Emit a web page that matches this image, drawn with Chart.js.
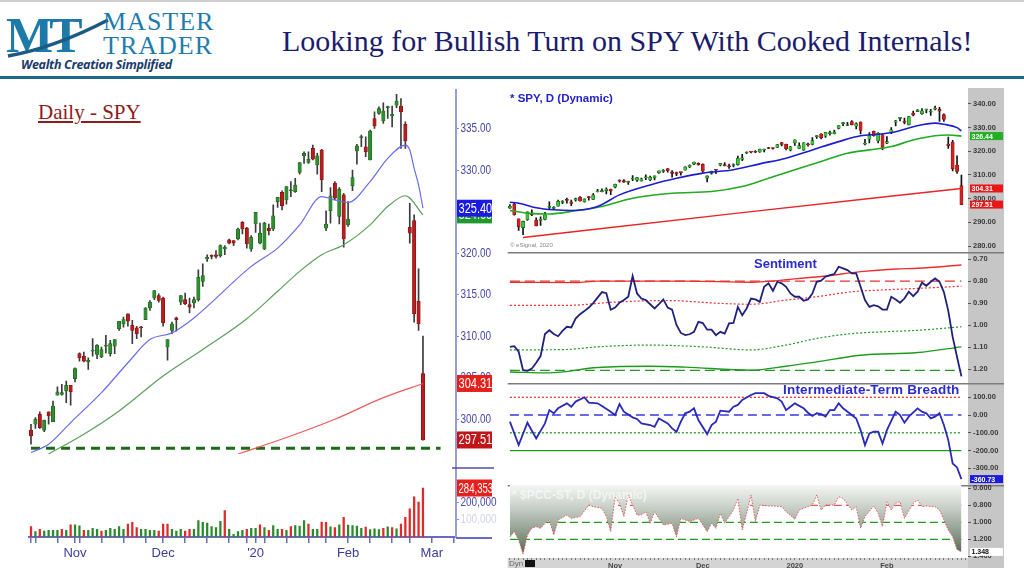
<!DOCTYPE html>
<html>
<head>
<meta charset="utf-8">
<script src="https://cdn.jsdelivr.net/npm/chart.js@4.4.1/dist/chart.umd.min.js"></script>
<style>
  body { margin: 0; width: 1024px; height: 573px; overflow: hidden; background: #fff; position: relative; font-family: 'Liberation Sans', Arial, sans-serif; }
  canvas { position: absolute; }
  .abs { position: absolute; white-space: nowrap; }
</style>
</head>
<body>
<div class="abs" style="left:0;top:0;width:1024px;height:2px;background:#cfcfcf"></div>
<!-- logo -->
<div class="abs" style="left:6px;top:6px;font:bold 50px 'Liberation Serif',serif;color:#1d7aa8;letter-spacing:-4px">MT</div>
<svg class="abs" style="left:4px;top:14px" width="110" height="50"><path d="M4 42 Q 50 34 104 6" stroke="#1c5a86" stroke-width="3.5" fill="none"/></svg>
<div class="abs" style="left:103px;top:10px;font:26px 'Liberation Serif',serif;color:#1f7cad;line-height:24px;letter-spacing:1px">MASTER<br>TRADER</div>
<div class="abs" style="left:21px;top:56px;font:italic bold 12.5px 'Open Sans',sans-serif;color:#1a3c6c;letter-spacing:-0.3px">Wealth Creation Simplified</div>
<div class="abs" id="title" style="left:282px;top:24px;font:30px 'Liberation Serif',serif;color:#1c1c6e">Looking for Bullish Turn on SPY With Cooked Internals!</div>
<div class="abs" style="left:0;top:76px;width:1024px;height:2.5px;background:#1f6a8c"></div>

<div class="abs" style="left:38px;top:100px;font:21px 'Liberation Serif',serif;color:#8e1c1c;text-decoration:underline">Daily - SPY</div>

<canvas id="left" width="500" height="486" style="left:0;top:86px"></canvas>
<canvas id="p1" width="512" height="164" style="left:500px;top:88px"></canvas>
<canvas id="p2" width="512" height="131" style="left:500px;top:252px"></canvas>
<canvas id="p3" width="512" height="102" style="left:500px;top:383px"></canvas>
<canvas id="p4" width="512" height="85" style="left:500px;top:485px"></canvas>

<div class="abs" style="left:510px;top:92px;font:bold 11.5px 'Liberation Sans',Arial,sans-serif;color:#2323c8">* SPY, D (Dynamic)</div>
<div class="abs" style="left:510px;top:242px;font:6px 'Liberation Sans',Arial,sans-serif;color:#888">© eSignal, 2020</div>
<div class="abs" style="left:754px;top:256px;font:bold 13px 'Liberation Sans',Arial,sans-serif;color:#2a2ad0">Sentiment</div>
<div class="abs" style="left:783px;top:382px;font:bold 13.5px 'Liberation Sans',Arial,sans-serif;color:#2a2ad0;letter-spacing:0.2px">Intermediate-Term Breadth</div>
<div class="abs" style="left:512px;top:488px;font:bold 12px 'Liberation Sans',Arial,sans-serif;color:rgba(255,255,255,0.6)">* $PCC-ST, D (Dynamic)</div>
<div class="abs" style="left:509px;top:559px;font:8px 'Liberation Sans',Arial,sans-serif;color:#666">Dyn <span style="display:inline-block;width:10px;height:7px;background:#111;vertical-align:-1px"></span></div>

<script>
// trading days shown on the charts
const tradingDays = [
  ['2019-09', [30]],
  ['2019-10', [1,2,3,4,7,8,9,10,11,14,15,16,17,18,21,22,23,24,25,28,29,30,31]],
  ['2019-11', [1,4,5,6,7,8,11,12,13,14,15,18,19,20,21,22,25,26,27,29]],
  ['2019-12', [2,3,4,5,6,9,10,11,12,13,16,17,18,19,20,23,24,26,27,30,31]],
  ['2020-01', [2,3,6,7,8,9,10,13,14,15,16,17,21,22,23,24,27,28,29,30,31]],
  ['2020-02', [3,4,5,6,7,10,11,12,13,14,18,19,20,21,24,25,26,27,28]],
  ['2020-03', [2,3,4,5,6,9]]
];
const dates = tradingDays.flatMap(([m, ds]) => ds.map(d => m + '-' + String(d).padStart(2, '0')));

// SPY daily OHLC, Sep 30 2019 .. Feb 27 2020
const opens = [296.0,297.7,291.5,287.8,291.1,293.5,291.0,290.8,291.2,296.3,295.9,296.8,298.4,299.7,298.7,299.4,300.6,298.7,300.9,299.7,
  302.9,303.0,303.4,304.1,304.9,307.9,307.6,306.9,308.2,307.8,307.5,308.8,307.9,308.8,310.9,311.5,312.7,311.3,311.0,311.1,
  312.0,313.4,314.6,314.9,314.6,308.7,310.7,312.2,314.1,314.4,313.8,314.0,314.4,316.6,319.3,319.7,319.8,319.7,320.5,321.6,
  321.5,321.7,323.7,323.0,320.5,323.5,321.2,320.5,323.0,322.9,326.2,327.3,326.4,327.5,327.4,329.7,331.7,330.9,332.6,330.6,
  332.4,323.0,325.1,328.4,324.4,327.0,323.4,328.1,332.3,333.9,332.8,331.2,336.2,336.8,335.9,337.5,336.5,337.8,337.7,335.5,
  323.1,323.9,314.2,305.5];
const highs = [297.5,298.5,291.5,290.5,294.4,295.3,291.9,292.3,294.2,298.7,296.7,299.4,299.2,300.2,299.4,300.2,300.9,299.9,300.9,302.2,
  303.9,304.2,304.6,304.1,306.2,308.0,308.1,307.4,309.7,309.0,308.7,310.1,309.5,309.6,311.8,312.3,312.7,311.9,311.2,311.2,
  313.4,314.3,315.5,315.1,314.7,309.6,311.7,312.3,314.9,315.2,314.6,314.7,318.0,318.7,319.8,319.8,320.3,321.0,320.9,321.7,
  321.5,323.0,323.8,323.1,322.1,324.9,323.6,323.7,323.5,325.8,326.7,327.5,328.0,328.6,329.0,330.9,332.2,332.2,333.0,332.0,
  332.5,325.1,327.9,328.6,327.9,327.2,326.2,330.0,333.1,334.2,334.0,334.8,337.0,337.6,338.1,337.7,337.7,339.1,338.6,335.8,
  326.0,324.6,318.1,310.0];
const lows = [295.9,293.0,286.6,284.8,290.8,292.8,288.5,288.7,291.0,295.4,295.6,296.8,297.9,298.1,297.0,298.9,298.9,298.5,299.4,299.7,
  302.9,302.9,302.0,301.7,304.5,307.0,306.9,306.0,307.6,307.3,307.4,308.0,307.6,307.9,310.7,311.1,311.2,309.1,309.7,309.9,
  312.0,313.1,314.4,314.1,311.2,307.1,310.3,310.6,313.8,313.8,312.8,313.4,314.2,316.0,319.0,319.3,319.4,319.5,319.8,321.1,
  320.9,321.6,322.3,320.6,320.2,322.5,321.1,320.4,322.2,322.7,325.5,325.2,325.9,326.8,327.3,329.5,330.8,330.8,331.2,329.5,
  327.4,322.7,323.6,326.4,323.5,320.7,323.2,327.5,330.7,332.8,331.6,331.2,335.0,336.7,335.6,336.2,335.2,337.5,332.6,332.6,
  321.2,311.7,310.7,297.5];
const closes = [296.8,293.2,288.1,290.4,294.4,293.1,288.5,291.3,293.2,296.3,296.0,298.9,298.4,299.3,298.0,300.0,299.0,299.9,300.4,301.6,
  303.3,303.2,304.1,303.3,306.1,307.4,307.0,307.1,308.2,308.9,308.4,308.9,309.1,309.6,311.8,312.0,311.8,310.7,310.3,311.0,
  313.4,314.1,315.5,314.3,311.6,309.6,311.5,312.0,314.9,313.9,313.5,314.4,317.1,317.3,319.5,319.6,319.6,320.9,320.7,321.2,
  321.2,322.9,322.9,321.1,321.9,324.9,322.4,323.6,322.7,324.5,326.7,325.7,328.0,327.5,328.2,330.9,332.0,331.3,331.3,331.7,
  328.8,323.5,326.9,326.6,327.7,321.7,324.1,329.1,332.9,334.0,332.2,334.7,335.3,337.4,337.1,337.6,336.7,338.3,337.0,333.5,
  322.4,312.7,311.5,297.51];

// volume (thousands of shares), Oct 18 2019 .. Feb 27 2020
const volumeStart = '2019-10-18';
const volumes = [61000,32000,45000,35000,39000,39000,39000,45000,39000,71000,71000,65000,39000,39000,51000,45000,35000,39000,51000,45000,
  61000,45000,75000,85000,55000,45000,45000,39000,39000,35000,75000,75000,45000,35000,45000,35000,45000,45000,95000,85000,
  81000,61000,55000,91000,154000,45000,16000,32000,39000,45000,51000,51000,71000,55000,39000,67000,45000,45000,39000,61000,
  67000,63000,95000,75000,45000,45000,87000,85000,59000,55000,71000,114000,69000,67000,63000,51000,57000,43000,47000,43000,
  51000,59000,55000,47000,75000,114000,164000,233000,203000,284353];

// left axis tick values
const priceTicks = [300, 305, 310, 315, 320, 325, 330, 335];
const volumeTicks = [100000, 200000];

// left chart moving averages (knot day index, value)
const maBlueIdx = [14,18,23,30,36,41,46,51,64,70,75,80,83,86,91,95,99,100,101,102,103];
const maBlueVal = [296.0,297.0,299.6,303.2,306.8,309.6,310.4,312.2,318.4,320.6,323.4,326.8,326.4,326.1,328.6,331.4,333.0,332.4,330.2,328.2,325.40];
const maGreenIdx = [18,26,34,44,53,63,70,75,80,85,91,95,99,103];
const maGreenVal = [295.82,298.2,301.0,305.2,308.4,312.1,315.4,317.8,319.8,321.0,323.4,325.6,326.9,324.60];
const maRedIdx = [61,72,83,94,103];
const maRedVal = [295.82,297.8,300.0,302.6,304.31];
const supportLevel = 296.5;
const supportFrom = '2019-10-18', supportTo = '2020-03-04';

// right price panel moving averages
const rBlueIdx = [0,2,6,10,14,20,25,32,38,44,51,57,63,69,75,80,84,88,92,97,99,102,103];
const rBlueVal = [298.5,298.1,296.2,295.3,295.0,296.7,301.6,305.8,308.6,310.8,312.2,314.7,317.1,320.6,324.1,326.6,327.2,328.3,330.4,331.9,331.4,330.0,328.6];
const rGreenIdx = [0,4,9,15,21,28,37,46,53,59,65,71,77,82,87,92,97,100,103];
const rGreenVal = [295.0,293.9,293.5,294.9,296.7,300.2,302.3,303.0,305.1,308.6,312.2,315.7,319.2,320.6,322.0,324.8,326.6,326.9,326.44];
const rRedIdx = [3,51,103];
const rRedVal = [283.6,293.7,304.31];

// sentiment (daily, Sep 30 .. Feb 27)
const sentiment = [1.098,1.095,1.12,1.204,1.207,1.197,1.17,1.14,1.04,1.023,1.04,1.05,1.026,1.007,1.01,0.97,0.95,0.936,0.92,0.90,
  0.875,0.85,0.855,0.93,0.92,0.898,0.886,0.871,0.777,0.856,0.879,0.886,0.905,0.924,0.904,0.883,0.92,0.929,0.999,1.035,
  1.045,1.041,1.03,0.985,0.99,1.02,1.02,1.045,1.03,1.038,0.992,0.99,0.917,0.955,0.924,0.879,0.883,0.894,0.826,0.81,
  0.844,0.803,0.81,0.826,0.856,0.871,0.871,0.889,0.883,0.856,0.803,0.798,0.78,0.773,0.768,0.735,0.742,0.75,0.765,0.765,
  0.826,0.886,0.917,0.909,0.914,0.929,0.929,0.871,0.883,0.898,0.879,0.848,0.868,0.848,0.807,0.821,0.803,0.788,0.803,0.85,
  0.935,1.053,1.144,1.232];
const sRedIdx = [0,15,20,40,55,65,72,80,88,93,103];
const sRedVal = [0.805,0.807,0.80,0.80,0.805,0.79,0.777,0.757,0.745,0.742,0.727];
const sRedDotIdx = [0,13,24,36,47,55,63,70,78,85,93,103];
const sRedDotVal = [0.91,0.91,0.895,0.888,0.90,0.905,0.886,0.871,0.848,0.84,0.833,0.823];
const sGreenDotIdx = [0,13,20,32,44,55,63,70,78,85,93,103];
const sGreenDotVal = [1.112,1.11,1.098,1.09,1.098,1.112,1.09,1.06,1.038,1.03,1.023,1.007];
const sGreenIdx = [0,9,20,32,40,55,63,70,80,93,103];
const sGreenVal = [1.212,1.216,1.192,1.186,1.19,1.204,1.186,1.166,1.136,1.124,1.098];
const sUpper = 0.80, sLower = 1.205;

// intermediate-term breadth (knot day index, value)
const breadthIdx = [0,2,4,6,8,9,10,11,13,14,15,17,18,20,21,23,24,25,26,28,29,30,32,33,34,36,37,38,39,40,41,42,43,45,46,47,48,50,51,52,
  53,55,56,58,59,61,62,63,64,65,67,68,69,70,71,72,73,74,75,76,78,79,80,81,82,83,84,85,86,88,89,90,91,93,94,95,96,97,98,99,
  100,101,102,103];
const breadthVal = [-37,-169,-43,-132,-47,28,10,38,66,47,76,100,70,66,51,19,0,62,19,-13,-22,-47,-56,-66,-19,-47,-75,-94,-37,10,
  19,38,-28,-107,-56,-37,25,19,47,57,85,113,123,123,108,94,76,28,47,66,38,13,-5,10,6,-9,28,28,66,38,0,-19,-85,-169,-103,
  -94,-94,-160,-85,19,0,-43,-9,38,19,10,-19,-9,10,-56,-141,-273,-295,-360.73];
const breadthLevels = [100, 0, -100, -200];

// $PCC-ST (knot day index, value)
const pccIdx = [0,1,2,3,4,5,6,7,8,9,10,11,13,14,16,18,19,21,22,23,24,25,26,27,29,30,31,32,33,35,37,38,39,41,42,43,45,46,47,48,
  49,51,52,53,54,55,56,57,59,60,62,63,65,66,67,69,70,71,72,74,75,76,78,79,80,81,83,84,85,86,87,88,89,90,92,93,94,95,97,98,
  100,101,102,103];
const pccVal = [1.169,1.11,1.208,1.373,1.149,1.071,1.051,1.071,1.012,0.973,1.149,0.973,0.914,0.953,0.933,0.796,0.816,0.835,0.933,1.11,
  0.698,0.776,0.933,0.678,0.914,0.914,0.875,1.012,0.875,1.031,1.012,1.169,0.953,0.992,0.973,0.953,1.11,1.012,1.071,0.894,
  1.012,0.855,0.718,1.09,0.894,0.678,0.992,0.796,0.808,0.808,0.816,0.875,0.965,0.855,0.835,0.796,0.678,0.855,0.796,0.796,
  0.698,0.718,0.855,0.816,1.071,0.933,0.808,0.894,1.051,0.757,0.855,0.776,0.757,0.953,0.776,0.737,0.816,0.808,0.816,0.855,
  1.09,1.169,1.32,1.348];
const pccLevels = [0.8, 1.0, 1.2];

const leftMonths = { '2019-11-01': 'Nov', '2019-12-02': 'Dec', '2020-01-02': "'20", '2020-02-03': 'Feb', '2020-03-02': 'Mar' };
const rightMonths = { '2019-11-01': 'Nov', '2019-12-02': 'Dec', '2020-01-02': '2020', '2020-02-03': 'Feb' };

// ---------- helpers ----------
const sans = "'Liberation Sans', Arial, sans-serif";
const nBars = closes.length;
const pts = (idx, vals) => idx.map((i, k) => ({ x: dates[i], y: vals[k] }));
const flat = (v, from, to) => [{ x: from, y: v }, { x: to, y: v }];

function candleSets(labels, style) {
  const at = l => dates.indexOf(l);
  const wick = labels.map(l => { const i = at(l); return i < nBars ? [lows[i], highs[i]] : null; });
  const body = labels.map(l => { const i = at(l); return i < nBars ? [opens[i], closes[i]] : null; });
  const up = labels.map(l => { const i = at(l); return i < nBars && closes[i] >= opens[i]; });
  return [
    { type: 'bar', data: wick, backgroundColor: style.wick, barThickness: 1, grouped: false, order: 5, yAxisID: 'y' },
    { type: 'bar', data: body, backgroundColor: up.map(u => u ? style.up : style.down),
      borderColor: up.map(u => u ? style.upEdge : style.downEdge), borderWidth: 0.6, borderSkipped: false,
      barThickness: style.body, minBarLength: 1, grouped: false, order: 4, yAxisID: 'y' }
  ];
}

function line(data, color, width, extra) {
  return Object.assign({ type: 'line', data: data, borderColor: color, borderWidth: width, pointRadius: 0,
    fill: false, tension: 0, order: 1, yAxisID: 'y' }, extra || {});
}

// text squeezed horizontally, like the condensed face of the original
function squeezed(c, text, x, y, sx) {
  c.save();
  c.translate(x, y);
  c.scale(sx, 1);
  c.fillText(text, 0, 0);
  c.restore();
}

const axisText = {
  id: 'axisText',
  afterDraw(chart, args, o) {
    const c = chart.ctx;
    (o.scales || []).forEach(a => {
      const s = chart.scales[a.id];
      s.ticks.forEach(t => {
        const txt = a.format(t.value);
        if (!txt) return;
        c.save();
        c.font = o.font;
        c.fillStyle = a.color(t.value);
        c.textBaseline = 'middle';
        squeezed(c, txt, s.left + o.dx, s.getPixelForValue(t.value), o.sx);
        c.restore();
      });
    });
  }
};

const tagPlugin = {
  id: 'tags',
  afterDraw(chart, args, o) {
    const c = chart.ctx;
    (o.items || []).forEach(t => {
      const s = chart.scales[t.scale || 'y'];
      const y = s.getPixelForValue(t.value);
      c.save();
      c.fillStyle = t.bg;
      c.fillRect(s.left + o.dx, y - o.h / 2, o.w, o.h);
      c.fillStyle = t.fg || '#fff';
      c.font = o.font;
      c.textBaseline = 'middle';
      squeezed(c, t.text, s.left + o.dx + 1.5, y + 0.5, t.sx || o.sx || 1);
      c.restore();
    });
  }
};

const panelPlugin = {
  id: 'panel',
  beforeDraw(chart, args, o) {
    const { ctx, chartArea: a } = chart;
    ctx.save();
    ctx.fillStyle = '#c6c6c6';
    ctx.fillRect(a.right, 0, o.strip, chart.height - (o.band ? 2 : 0));
    if (o.band) {
      ctx.fillStyle = '#d4d4d4';
      ctx.fillRect(a.left, a.bottom, a.right - a.left, chart.height - a.bottom - 2);
    }
    if (o.topLine) {
      ctx.strokeStyle = '#7c7c7c';
      ctx.lineWidth = 1.5;
      ctx.beginPath();
      ctx.moveTo(a.left, a.top + 0.75);
      ctx.lineTo(a.right + o.strip, a.top + 0.75);
      ctx.stroke();
    }
    ctx.restore();
  }
};

const leftDecor = {
  id: 'leftDecor',
  afterDraw(chart, args, o) {
    const { ctx, chartArea: a } = chart;
    const x = chart.scales.x, yv = chart.scales.yv;
    ctx.save();
    ctx.strokeStyle = '#6a6ac4';
    ctx.lineWidth = 2;
    ctx.beginPath();
    ctx.moveTo(a.right, x.top + 1);
    ctx.lineTo(a.right + 36, x.top + 1);
    ctx.stroke();
    const sy = yv.getPixelForValue(o.separator);
    ctx.strokeStyle = '#4c4cb0';
    ctx.lineWidth = 1.5;
    ctx.beginPath();
    ctx.moveTo(yv.left - 4, sy);
    ctx.lineTo(yv.right - 6, sy);
    ctx.stroke();
    ctx.restore();
  }
};

const base = { responsive: false, animation: false, events: [] };
const noPlugins = { legend: { display: false }, tooltip: { enabled: false } };

// ---------- left chart ----------
const leftLabels = dates.slice(dates.indexOf('2019-10-18'));
const vStart = dates.indexOf(volumeStart);
const leftVol = leftLabels.map(l => { const k = dates.indexOf(l) - vStart; return k < volumes.length ? volumes[k] : null; });
const leftVolColor = leftLabels.map(l => { const i = dates.indexOf(l); return i < nBars && closes[i] >= closes[i - 1] ? '#2a8a2a' : '#e02a2a'; });
const weekStart = leftLabels.map((l, k) => {
  if (k === 0) return true;
  const d = new Date(l + 'T00:00:00Z'), p = new Date(leftLabels[k - 1] + 'T00:00:00Z');
  return d.getUTCDay() < p.getUTCDay() || leftMonths[l] !== undefined;
});

new Chart(document.getElementById('left'), {
  type: 'bar',
  data: {
    labels: leftLabels,
    datasets: [
      ...candleSets(leftLabels, { wick: '#3c3c3c', body: 3.4, up: '#2f8f2f', upEdge: '#1d5c1d', down: '#b81c1c', downEdge: '#7a1010' }),
      line(pts(maBlueIdx, maBlueVal), '#6b6bea', 1.2, { cubicInterpolationMode: 'monotone' }),
      line(pts(maGreenIdx, maGreenVal), '#5aa05a', 1.2, { cubicInterpolationMode: 'monotone' }),
      line(pts(maRedIdx, maRedVal), '#ee5a5a', 1.2, { cubicInterpolationMode: 'monotone' }),
      line(flat(supportLevel, supportFrom, supportTo), '#1b6b1b', 3, { borderDash: [9, 6] }),
      { type: 'bar', data: leftVol, backgroundColor: leftVolColor, barThickness: 1.6, grouped: false, yAxisID: 'yv', order: 3 }
    ]
  },
  options: Object.assign({}, base, {
    layout: { padding: { left: 28.8, top: 4, right: 0, bottom: 0 } },
    plugins: Object.assign({}, noPlugins, {
      leftDecor: { separator: 400000 },
      axisText: { font: '13.5px ' + sans, dx: 4.5, sx: 0.74, scales: [
        { id: 'y', format: v => v.toFixed(2), color: () => '#4646a6' },
        { id: 'yv', format: v => v.toLocaleString('en-US'),
          color: v => (v === 200000 ? '#4646a6' : 'rgba(70,70,166,0.25)') }
      ] },
      tags: { dx: 1, w: 35, h: 17, sx: 0.76, font: '14.5px ' + sans, items: [
        { value: maGreenVal[maGreenVal.length - 1], text: '324.60', bg: '#1f9a2a' },
        { value: maBlueVal[maBlueVal.length - 1], text: '325.40', bg: '#1a1ae0' },
        { value: maRedVal[maRedVal.length - 1], text: '304.31', bg: '#e8201c' },
        { value: closes[nBars - 1], text: '297.51', bg: '#c0161a' },
        { scale: 'yv', value: volumes[volumes.length - 1], text: '284,353', bg: '#e8201c', sx: 0.66 }
      ] }
    }),
    scales: {
      x: {
        offset: true,
        afterFit: s => { s.height = 35; s.paddingLeft = 0; s.paddingRight = 0; },
        grid: { drawOnChartArea: false, offset: false, tickLength: 6, lineWidth: 1.5,
          color: ctx => (weekStart[ctx.index] ? '#6a6ac4' : 'rgba(0,0,0,0)') },
        border: { color: '#6a6ac4', width: 2 },
        ticks: { autoSkip: false, maxRotation: 0, padding: 3, color: '#3c3c9c', font: { family: sans, size: 13 },
          callback: function (v) { return leftMonths[this.getLabelForValue(v)] || ''; } }
      },
      y: {
        position: 'right', stack: 'left', stackWeight: 4.386, min: 295.82, max: 339.63,
        afterBuildTicks: s => { s.ticks = priceTicks.map(v => ({ value: v })); },
        afterFit: s => { s.width = 44; s.paddingTop = 0; s.paddingBottom = 0; },
        grid: { drawOnChartArea: false, tickLength: 3, color: '#8a8ad0' },
        border: { color: '#9a9ad8', width: 2 },
        ticks: { display: false }
      },
      yv: {
        position: 'right', stack: 'left', stackWeight: 1, min: 0, max: 481700,
        afterBuildTicks: s => { s.ticks = volumeTicks.map(v => ({ value: v })); },
        afterFit: s => { s.width = 44; s.paddingTop = 0; s.paddingBottom = 0; },
        grid: { drawOnChartArea: false, tickLength: 3, color: '#8a8ad0' },
        border: { color: '#9a9ad8', width: 2 },
        ticks: { display: false }
      }
    }
  }),
  plugins: [leftDecor, axisText, tagPlugin]
});

// ---------- right panels ----------
const rightLabels = dates.slice(0, nBars + 1);
const rightTick = { color: '#3a3a3a', font: { family: sans, size: 7.5, weight: 'bold' }, padding: 2 };
const smallTags = { dx: 2, w: 33, h: 8, font: 'bold 7px ' + sans };

function rightPanel(id, cfg) {
  return new Chart(document.getElementById(id), {
    type: cfg.type || 'line',
    data: { labels: rightLabels, datasets: cfg.datasets },
    options: Object.assign({}, base, {
      layout: { padding: { left: 7.7, right: 0, top: 0, bottom: 0 } },
      plugins: Object.assign({}, noPlugins, {
        tags: Object.assign({ items: cfg.tags || [] }, smallTags),
        panel: { strip: 36, topLine: cfg.topLine, band: !!cfg.xAxis }
      }),
      scales: {
        x: cfg.xAxis || { display: false, offset: true },
        y: {
          position: 'right', min: cfg.min, max: cfg.max, reverse: !!cfg.reverse,
          afterFit: s => { s.width = 44; s.paddingTop = 0; s.paddingBottom = 0; },
          grid: { drawOnChartArea: false, tickLength: 3, color: '#555' },
          border: { display: false },
          ticks: Object.assign({ stepSize: cfg.step, includeBounds: false, callback: v => v.toFixed(cfg.dec) }, rightTick)
        }
      }
    }),
    plugins: [panelPlugin, tagPlugin]
  });
}

const firstDay = dates[0], lastDay = dates[nBars - 1];

rightPanel('p1', {
  type: 'bar', min: 277.47, max: 346.75, step: 10, dec: 2, topLine: false,
  datasets: [
    ...candleSets(rightLabels, { wick: '#111', body: 3.2, up: '#3cc83c', upEdge: '#145c14', down: '#d22020', downEdge: '#7a1010' }),
    line(pts(rBlueIdx, rBlueVal), '#1c1cd0', 1.6, { cubicInterpolationMode: 'monotone' }),
    line(pts(rGreenIdx, rGreenVal), '#22aa22', 1.6, { cubicInterpolationMode: 'monotone' }),
    line(pts(rRedIdx, rRedVal), '#e82424', 1.4, { cubicInterpolationMode: 'monotone' })
  ],
  tags: [
    { value: rGreenVal[rGreenVal.length - 1], text: '326.44', bg: '#22b022' },
    { value: rRedVal[rRedVal.length - 1], text: '304.31', bg: '#e81818' },
    { value: closes[nBars - 1], text: '297.51', bg: '#e81818' }
  ]
});

rightPanel('p2', {
  min: 0.668, max: 1.262, reverse: true, step: 0.1, dec: 2, topLine: true,
  datasets: [
    line(flat(sUpper, firstDay, lastDay), '#e83030', 1.3, { borderDash: [10, 5] }),
    line(pts(sRedIdx, sRedVal), '#e83030', 1.4, { cubicInterpolationMode: 'monotone' }),
    line(pts(sRedDotIdx, sRedDotVal), '#e83030', 1.2, { borderDash: [2, 2], cubicInterpolationMode: 'monotone' }),
    line(pts(sGreenDotIdx, sGreenDotVal), '#1f9a1f', 1.2, { borderDash: [2, 2], cubicInterpolationMode: 'monotone' }),
    line(pts(sGreenIdx, sGreenVal), '#1f9a1f', 1.4, { cubicInterpolationMode: 'monotone' }),
    line(flat(sLower, firstDay, lastDay), '#1f9a1f', 1.3, { borderDash: [10, 5] }),
    line(sentiment.map((v, i) => ({ x: dates[i], y: v })), '#20207e', 1.8, { order: 0 })
  ]
});

rightPanel('p3', {
  min: -394, max: 180.6, step: 100, dec: 2, topLine: true,
  datasets: [
    line(flat(breadthLevels[0], firstDay, lastDay), '#e83030', 1.3, { borderDash: [2, 2] }),
    line(flat(breadthLevels[1], firstDay, lastDay), '#3a3ae0', 1.5, { borderDash: [9, 5] }),
    line(flat(breadthLevels[2], firstDay, lastDay), '#1f9a1f', 1.3, { borderDash: [2, 2] }),
    line(flat(breadthLevels[3], firstDay, lastDay), '#1f9a1f', 1.3),
    line(pts(breadthIdx, breadthVal), '#2a2ab6', 1.8, { order: 0 })
  ],
  tags: [{ value: breadthVal[breadthVal.length - 1], text: '-360.73', bg: '#1c1ce0' }]
});

rightPanel('p4', {
  min: 0.561, max: 1.42, reverse: true, step: 0.2, dec: 3, topLine: true,
  xAxis: {
    offset: true,
    afterFit: s => { s.height = 12; s.paddingLeft = 0; s.paddingRight = 0; },
    grid: { drawOnChartArea: false, offset: false, tickLength: 2, color: '#777' },
    border: { display: false },
    ticks: { autoSkip: false, maxRotation: 0, padding: 1, color: '#444',
      font: { family: sans, size: 7.5, weight: 'bold' },
      callback: function (v) { return rightMonths[this.getLabelForValue(v)] || ''; } }
  },
  datasets: [
    line(pts(pccIdx, pccVal), '#e05a5a', 1, {
      borderDash: [1.5, 1.5],
      fill: { value: 0.561 },
      backgroundColor: ctx => {
        const a = ctx.chart.chartArea;
        if (!a) return 'rgba(150,165,150,0.6)';
        const g = ctx.chart.ctx.createLinearGradient(0, a.top, 0, a.bottom);
        g.addColorStop(0, '#f6f6f6');
        g.addColorStop(0.3, '#c9d0c9');
        g.addColorStop(0.7, '#849484');
        g.addColorStop(1, '#4a5c4a');
        return g;
      }
    }),
    line(flat(pccLevels[0], firstDay, lastDay), '#e05a5a', 1.3, { borderDash: [8, 4] }),
    line(flat(pccLevels[1], firstDay, lastDay), '#1f9a1f', 1.3, { borderDash: [8, 4] }),
    line(flat(pccLevels[2], firstDay, lastDay), '#1f9a1f', 1.3, { borderDash: [8, 4] })
  ],
  tags: [{ value: pccVal[pccVal.length - 1], text: '1.348', bg: '#fff', fg: '#111' }]
});
</script>
</body>
</html>
